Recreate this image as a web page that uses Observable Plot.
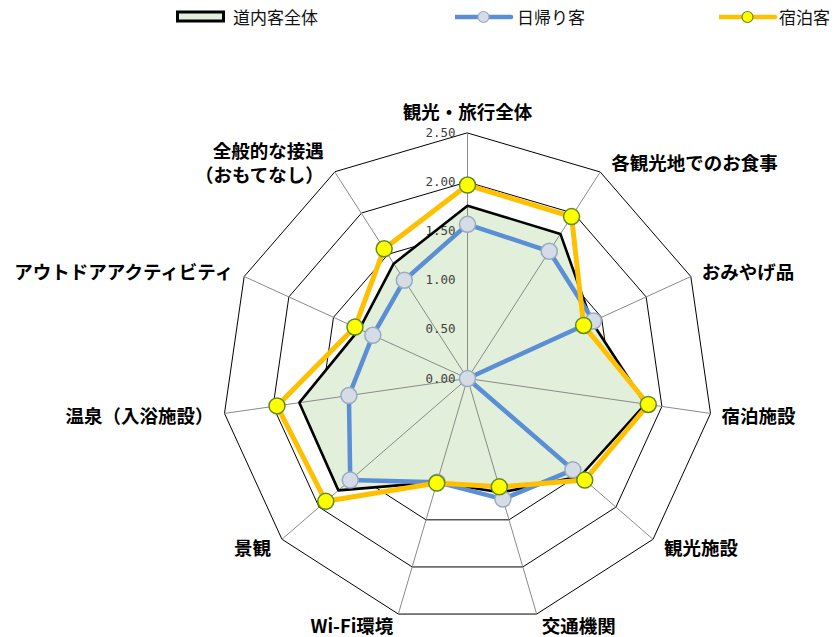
<!DOCTYPE html>
<html>
<head>
<meta charset="utf-8">
<script src="https://cdn.jsdelivr.net/npm/d3@7"></script>
<script src="https://cdn.jsdelivr.net/npm/@observablehq/plot@0.6"></script>
<style>
  html, body { margin: 0; padding: 0; background: #fff; }
  #wrap { width: 835px; height: 637px; position: relative; overflow: hidden; }
  #legend { position: relative; width: 835px; height: 34px; font-family: "Noto Sans CJK JP", sans-serif; font-size: 17px; color: #111; }
  #legend .tx { position: absolute; top: 6px; line-height: 22px; white-space: nowrap; }
  #chart svg { display: block; }
</style>
</head>
<body>
<div id="wrap">
  <div id="legend"></div>
  <div id="chart"></div>
</div>
<script>
// ---- data ----
const categories = ["観光・旅行全体","各観光地でのお食事","おみやげ品","宿泊施設","観光施設","交通機関","Wi-Fi環境","景観","温泉（入浴施設）","アウトドアアクティビティ","全般的な接遇\n（おもてなし）"];
const seriesNames = ["道内客全体","日帰り客","宿泊客"];
const totalValues     = [1.76, 1.75, 1.39, 1.83, 1.52, 1.21, 1.10, 1.74, 1.73, 1.21, 1.39];
const dayTripValues   = [1.57, 1.54, 1.41, 0.00, 1.42, 1.28, 1.10, 1.58, 1.22, 1.06, 1.19];
const overnightValues = [1.97, 1.96, 1.30, 1.86, 1.58, 1.15, 1.11, 1.91, 1.96, 1.26, 1.57];
const tickValues = [0, 0.5, 1.0, 1.5, 2.0, 2.5];
const tickLabels = ["0.00","0.50","1.00","1.50","2.00","2.50"];

// ---- layout ----
const W = 835, H = 603;
const cx = 467, cy = 344;      // pixel centre inside the svg
const unit = 98.2;             // pixels per 1.0
const rMax = 2.5;
const n = categories.length;
const ang = i => i * 2 * Math.PI / n;
const px = (v, i) => v * Math.sin(ang(i));
const py = (v, i) => v * Math.cos(ang(i));

const poly = vals => vals.map((v, i) => ({i, x: px(v, i), y: py(v, i)}));
const totalPts = poly(totalValues);
const dayPts = poly(dayTripValues);
const ovnPts = poly(overnightValues);

const rings = tickValues.filter(v => v > 0).flatMap(v => categories.map((c, i) => ({level: v, x: px(v, i), y: py(v, i)})));
const spokes = categories.map((c, i) => ({x2: px(rMax, i), y2: py(rMax, i)}));
const ticks = tickValues.map((v, k) => ({y: v, label: tickLabels[k]}));

const labels = categories.map((c, i) => {
  const s = Math.sin(ang(i)), co = Math.cos(ang(i));
  let dxp = 0, anchor = "middle";
  if (Math.abs(s) > 0.01) {
    dxp = Math.sign(s) * (Math.abs(s) < 0.5 ? 5 : 11);
    anchor = s > 0 ? "start" : "end";
  }
  let dyp = -12 * co - (Math.abs(s) < 0.01 ? 10 : 0);
  return {text: c, anchor, x: px(rMax, i) + dxp / unit, y: py(rMax, i) - dyp / unit};
});

const blue = "#5A8FD5", yellow = "#FFC000", green = "#E2EFDA";
const font = "'Noto Sans CJK JP', sans-serif";

const plot = Plot.plot({
  width: W, height: H,
  margin: 0,
  x: {type: "linear", domain: [-cx / unit, (W - cx) / unit], axis: null},
  y: {type: "linear", domain: [-(H - cy) / unit, cy / unit], axis: null},
  style: {background: "#fff", overflow: "visible"},
  marks: [
    Plot.line(rings, {x: "x", y: "y", z: "level", curve: "linear-closed", stroke: "#000", strokeWidth: 1}),
    Plot.line(totalPts, {x: "x", y: "y", curve: "linear-closed", fill: green, stroke: "none"}),
    Plot.link(spokes, {x1: 0, y1: 0, x2: "x2", y2: "y2", stroke: "#8a8a8a", strokeWidth: 1}),
    Plot.text(ticks, {x: 0, y: "y", text: "label", dx: -12, textAnchor: "end", fontFamily: "'DejaVu Sans Mono', monospace", fontSize: 12.5, fill: "#404040"}),
    Plot.line(totalPts, {x: "x", y: "y", curve: "linear-closed", stroke: "#000", strokeWidth: 2.6, strokeLinejoin: "miter"}),
    Plot.line(dayPts, {x: "x", y: "y", curve: "linear-closed", stroke: blue, strokeWidth: 4.5}),
    Plot.dot(dayPts, {x: "x", y: "y", r: 8, fill: "#D6DCE5", stroke: "#9AAAC4", strokeWidth: 1.5}),
    Plot.line(ovnPts, {x: "x", y: "y", curve: "linear-closed", stroke: yellow, strokeWidth: 5}),
    Plot.dot(ovnPts, {x: "x", y: "y", r: 8, fill: "#FFFF00", stroke: "#5E8C1E", strokeWidth: 1.5}),
    ...["start", "middle", "end"].map(a =>
      Plot.text(labels.filter(d => d.anchor === a), {x: "x", y: "y", text: "text", textAnchor: a, fontFamily: font, fontWeight: "bold", fontSize: 18.5, lineHeight: 1.3, fill: "#000"}))
  ]
});
document.getElementById("chart").appendChild(plot);

// ---- legend ----
const lg = document.getElementById("legend");
const legendItems = [
  {name: seriesNames[0], x: 176, tx: 233, type: "area"},
  {name: seriesNames[1], x: 455, tx: 517, type: "blue"},
  {name: seriesNames[2], x: 719, tx: 779, type: "yellow"}
];
legendItems.forEach(it => {
  const s = d3.create("svg").attr("width", 60).attr("height", 34)
    .style("position", "absolute").style("left", it.x + "px").style("top", "0px");
  if (it.type === "area") {
    s.append("rect").attr("x", 1.5).attr("y", 12).attr("width", 46).attr("height", 9)
      .attr("fill", green).attr("stroke", "#000").attr("stroke-width", 3);
  } else {
    const col = it.type === "blue" ? blue : yellow;
    s.append("line").attr("x1", 0).attr("x2", 56).attr("y1", 17).attr("y2", 17)
      .attr("stroke", col).attr("stroke-width", 4.5).attr("stroke-linecap", "round");
    s.append("circle").attr("cx", 28.5).attr("cy", 17).attr("r", 5.5)
      .attr("fill", it.type === "blue" ? "#D6DCE5" : "#FFFF00")
      .attr("stroke", it.type === "blue" ? "#9AAAC4" : "#5E8C1E").attr("stroke-width", 1.2);
  }
  lg.appendChild(s.node());
  const t = document.createElement("div");
  t.className = "tx"; t.style.left = it.tx + "px"; t.textContent = it.name;
  lg.appendChild(t);
});
</script>
</body>
</html>
